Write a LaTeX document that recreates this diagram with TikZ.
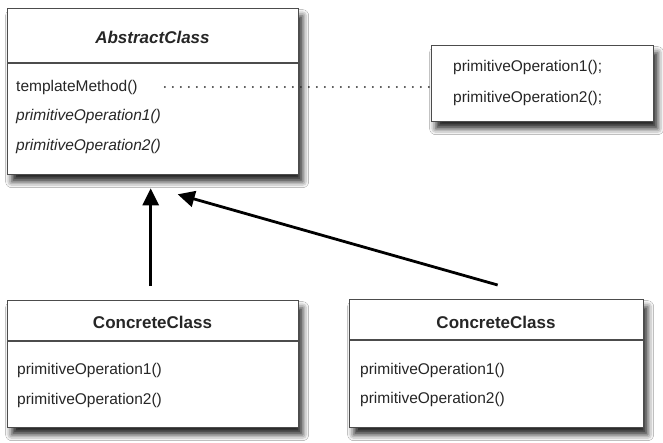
\documentclass[tikz,border=0pt]{standalone}
\usepackage{fontspec}
\setmainfont{Liberation Sans}
\usetikzlibrary{arrows.meta,shadows.blur}
\tikzset{
 umlbox/.style={draw=black!70, line width=1.3pt, fill=white, anchor=north west, inner sep=0pt,
   blur shadow={shadow xshift=4pt, shadow yshift=-7pt, shadow blur radius=6pt, shadow opacity=85}},
 sepline/.style={draw=black!70, line width=1.3pt},
 optext/.style={anchor=west, inner sep=0pt, font=\fontsize{15.5}{18}\selectfont, text=black!85},
 titletext/.style={inner sep=0pt, font=\fontsize{17}{20}\selectfont\bfseries, text=black!85},
 inh/.style={line width=2.8pt, -{Triangle[length=17pt,width=16pt]}},
 dotline/.style={line width=2pt, line cap=round, dash pattern=on 0pt off 8pt, black!85}
}
\begin{document}
\begin{tikzpicture}[x=1pt,y=-1pt]
\useasboundingbox[fill=white] (0,0) rectangle (663,442);
% abstract class
\node[umlbox, minimum width=291pt, minimum height=166pt] (abs) at (7,8) {};
\draw[sepline] (abs.west |- 0,63) -- (abs.east |- 0,63);
\node[titletext] (absT) at (152.5,37) {\itshape AbstractClass};
\node[optext] (tm) at (16,87) {templateMethod()};
\node[optext] (aop1) at (16,116) {\itshape primitiveOperation1()};
\node[optext] (aop2) at (16,146) {\itshape primitiveOperation2()};
% note
\node[umlbox, minimum width=222pt, minimum height=76pt] (note) at (431,45) {};
\node[optext] (n1) at (453,67) {primitiveOperation1();};
\node[optext] (n2) at (453,98) {primitiveOperation2();};
% concrete 1
\node[umlbox, minimum width=291pt, minimum height=127pt] (c1) at (7,300) {};
\draw[sepline] (c1.west |- 0,341) -- (c1.east |- 0,341);
\node[titletext] (c1T) at (152.5,322) {ConcreteClass};
\node[optext] (c1op1) at (17,370) {primitiveOperation1()};
\node[optext] (c1op2) at (17,400) {primitiveOperation2()};
% concrete 2
\node[umlbox, minimum width=294pt, minimum height=128pt] (c2) at (349,299) {};
\draw[sepline] (c2.west |- 0,340) -- (c2.east |- 0,340);
\node[titletext] (c2T) at (496,322) {ConcreteClass};
\node[optext] (c2op1) at (360,370) {primitiveOperation1()};
\node[optext] (c2op2) at (360,399) {primitiveOperation2()};
% connectors
\draw[inh] ([xshift=-2.5pt,yshift=14pt]c1.north) -- ([xshift=-2.5pt,yshift=-13pt]abs.south);
\draw[inh] ([xshift=1pt,yshift=14pt]c2.north) -- ([xshift=24.5pt,yshift=-19pt]abs.south);
\draw[dotline] ([xshift=27pt]tm.east) -- (note.west |- tm.east);
\end{tikzpicture}
\end{document}
